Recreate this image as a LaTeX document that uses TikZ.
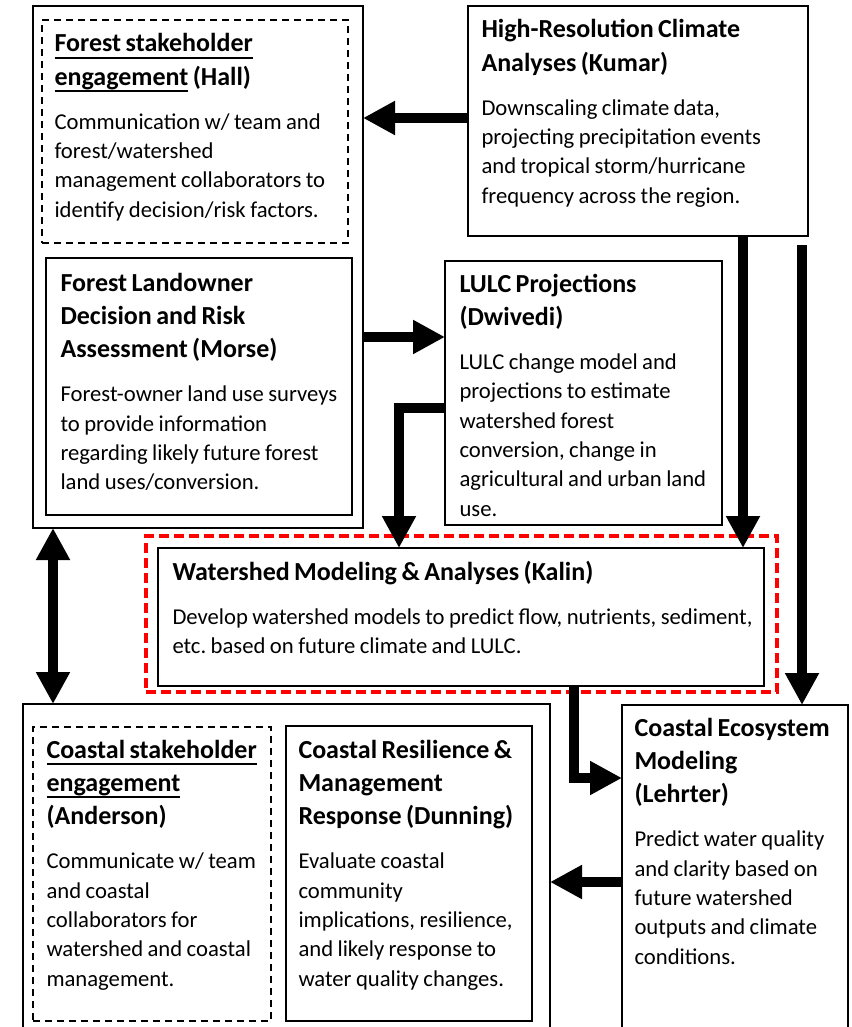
\documentclass[tikz,border=0pt]{standalone}
\usepackage{fontspec}
\setmainfont{Carlito}
\usetikzlibrary{arrows.meta,fit}
\newcommand{\ttl}{\fontsize{19.5}{25}\selectfont\bfseries}
\newcommand{\bdy}{\fontsize{17}{22}\selectfont\mdseries}
\newcommand{\gap}{\par\vspace{11pt}}
\newcommand{\ulbar}[1]{\leavevmode\setbox0\hbox{#1}\rlap{\rule[-5pt]{\wd0}{1.4pt}}\box0\relax}
\frenchspacing
\tikzset{every picture/.style={line width=0.75pt}}
\tikzset{
  box/.style={draw, line width=1.5, inner sep=0pt, outer sep=0pt},
  dbox/.style={box, dash pattern={on 5.25pt off 3.75pt}},
  rbox/.style={draw=red, line width=3, inner sep=0pt, outer sep=0pt, dash pattern={on 7.5pt off 3.75pt}},
  txt/.style={anchor=base west, inner sep=0pt, align=left, text width=#1},
  fat/.style={line width=7.5, -{Triangle[length=24pt,width=24pt]}},
  fatboth/.style={line width=7.5, {Triangle[length=24pt,width=24pt]}-{Triangle[length=24pt,width=24pt]}}
}

\begin{document}
\begin{tikzpicture}[x=0.75pt,y=0.75pt,yscale=-1,xscale=1]
\useasboundingbox (0,0) rectangle (851,1027);
\clip (0,0) rectangle (851,1027);

%Boxes
\node [box, fit={(33,6) (363,528)}] (forest) {};
\node [dbox, fit={(42,20) (348,243)}] (hall) {};
\node [box, fit={(46,258) (352,515)}] (morse) {};
\node [box, fit={(468,6) (808,236)}] (kumar) {};
\node [box, fit={(445,261) (722,525)}] (lulc) {};
\node [rbox, fit={(146,536) (777,692)}] (kalinZone) {};
\node [box, fit={(158,548) (764,686)}] (kalin) {};
\node [box, fit={(23,704) (550,1045)}] (coast) {};
\node [dbox, fit={(33,727) (271,1021)}] (anderson) {};
\node [box, fit={(286,726) (532,1021)}] (dunning) {};
\node [box, fit={(622,705) (848,1045)}] (lehrter) {};

%Arrows
\draw [fat] (kumar.west |- 0,118) -- (forest.east |- 0,118);
\draw [fat] (forest.east |- 0,337) -- (lulc.west |- 0,337);
\draw [fat] (lulc.west |- 0,408) -| (kalin.north -| 399,0);
\draw [fat] (kumar.south -| 743,0) -- (kalin.north -| 743,0);
\coordinate (climTail) at (802,245);
\draw [fat] (climTail) -- (climTail |- lehrter.north);
\draw [fat] (kalin.south -| 574,0) |- (lehrter.west |- 0,778);
\draw [fat] (lehrter.west |- 0,882) -- (coast.east |- 0,882);
\draw [fatboth] (forest.south -| 53,0) -- (coast.north -| 53,0);

% Text Node
\node [txt=225pt] (hallText) at (54,52) {\ttl \ulbar{Forest stakeholder}\\\ulbar{engagement} (Hall)\gap
\bdy Communication w/ team and\\forest/watershed\\management collaborators to\\identify decision/risk factors.\par};
% Text Node
\node [txt=225pt] (morseText) at (60,291) {\ttl Forest Landowner\\Decision and Risk\\Assessment (Morse)\gap
\bdy Forest-owner land use surveys\\to provide information\\regarding likely future forest\\land uses/conversion.\par};
% Text Node
\node [txt=250pt] (kumarText) at (481,38) {\ttl High-Resolution Climate\\Analyses (Kumar)\gap
\bdy Downscaling climate data,\\projecting precipitation events\\and tropical storm/hurricane\\frequency across the region.\par};
% Text Node
\node [txt=205pt] (lulcText) at (459,292) {\ttl LULC Projections\\(Dwivedi)\gap
\bdy LULC change model and\\projections to estimate\\watershed forest\\conversion, change in\\agricultural and urban land\\use.\par};
% Text Node
\node [txt=450pt] (kalinText) at (172,580) {\ttl Watershed Modeling \& Analyses (Kalin)\gap
\bdy Develop watershed models to predict flow, nutrients, sediment,\\etc. based on future climate and LULC.\par};
% Text Node
\node [txt=175pt] (andersonText) at (46,758) {\ttl \ulbar{Coastal stakeholder}\\\ulbar{engagement}\\(Anderson)\gap
\bdy Communicate w/ team\\and coastal\\collaborators for\\watershed and coastal\\management.\par};
% Text Node
\node [txt=180pt] (dunningText) at (298,758) {\ttl Coastal Resilience \&\\Management\\Response (Dunning)\gap
\bdy Evaluate coastal\\community\\implications, resilience,\\and likely response to\\water quality changes.\par};
% Text Node
\node [txt=165pt] (lehrterText) at (634,736) {\ttl Coastal Ecosystem\\Modeling\\(Lehrter)\gap
\bdy Predict water quality\\and clarity based on\\future watershed\\outputs and climate\\conditions.\par};

\end{tikzpicture}
\end{document}
